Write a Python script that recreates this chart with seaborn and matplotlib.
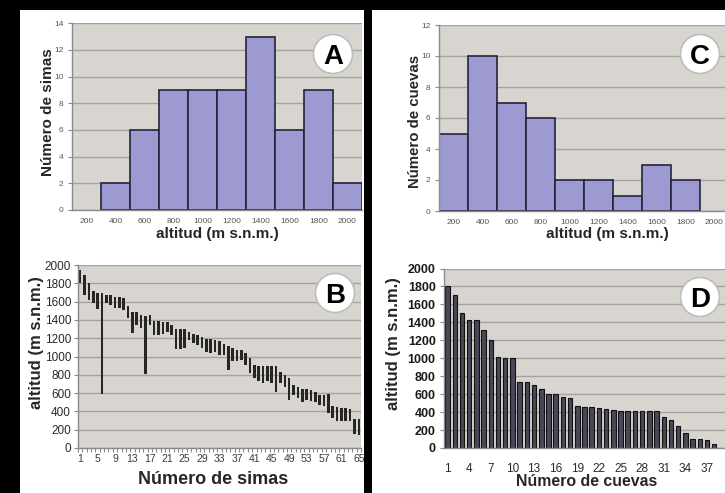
import numpy as np
import pandas as pd
import matplotlib
matplotlib.use('Agg')
import matplotlib.pyplot as plt
from matplotlib.patches import Rectangle, Circle
from matplotlib.ticker import FixedLocator
import seaborn as sns

# ---------------- data ----------------
alt_bins = ['200', '400', '600', '800', '1000', '1200', '1400', '1600', '1800', '2000']
simas_counts = [0, 2, 6, 9, 9, 9, 13, 6, 9, 2]
cuevas_counts = [5, 10, 7, 6, 2, 2, 1, 3, 2, 0]

simas_top = [1950, 1890, 1800, 1720, 1690, 1690, 1670, 1670, 1650, 1650,
             1640, 1550, 1490, 1490, 1450, 1445, 1450, 1385, 1385, 1380,
             1380, 1340, 1305, 1305, 1300, 1270, 1250, 1235, 1215, 1195,
             1195, 1180, 1170, 1140, 1110, 1090, 1075, 1070, 1035, 985,
             905, 900, 900, 900, 900, 900, 830, 795, 765, 685,
             670, 640, 640, 630, 615, 580, 580, 590, 460, 450,
             440, 440, 430, 320, 320]
simas_bottom = [1800, 1670, 1620, 1580, 1520, 590, 1580, 1560, 1525, 1530,
                1510, 1420, 1260, 1340, 1310, 810, 1340, 1235, 1235, 1250,
                1265, 1235, 1080, 1080, 1090, 1180, 1150, 1125, 1095, 1050,
                1035, 1045, 1020, 1015, 850, 950, 950, 960, 905, 815,
                760, 730, 715, 730, 715, 610, 705, 670, 520, 580,
                545, 505, 520, 510, 505, 470, 460, 385, 330, 300,
                295, 295, 290, 150, 140]
simas_ticklabels = [str(i) for i in range(1, 66, 4)]

cuevas_alt = [1800, 1700, 1500, 1430, 1430, 1310, 1200, 1010, 1000, 1000,
              740, 740, 700, 655, 605, 605, 570, 555, 465, 460,
              460, 445, 435, 420, 415, 415, 415, 415, 415, 415,
              350, 315, 250, 165, 95, 95, 85, 40]
cuevas_ticklabels = [str(i) for i in range(1, 39, 3)]

# ---------------- style ----------------
sns.set_style('white')
plt.rcParams['font.family'] = ['Liberation Sans', 'DejaVu Sans']

W, H = 725, 493
BG = '#d8d4d0'
GRID = '#a6a29e'
SP = '#8a8a8a'
LAV = '#9d9ad2'
EDGE = '#24243c'

fig = plt.figure(figsize=(W / 100, H / 100), dpi=100, facecolor='black')


def px_axes(l, t, r, b):
    return fig.add_axes([l / W, 1 - b / H, (r - l) / W, (b - t) / H])


for x0, x1 in [(20, 364), (372, 725)]:
    fig.add_artist(Rectangle((x0 / W, 0), (x1 - x0) / W, (H - 10) / H,
                             transform=fig.transFigure, facecolor='white',
                             edgecolor='none', zorder=-5))


def style(ax):
    ax.set_facecolor(BG)
    ax.grid(axis='y', color=GRID, lw=1)
    ax.grid(axis='x', visible=False)
    ax.set_axisbelow(True)
    for s in ['top', 'right']:
        ax.spines[s].set_visible(False)
    for s in ['left', 'bottom']:
        ax.spines[s].set_color(SP)
        ax.spines[s].set_linewidth(1)


# ---------------- A ----------------
axA = px_axes(72, 23.3, 362, 210)
style(axA)
dfA = pd.DataFrame({'alt': alt_bins, 'n': simas_counts})
sns.barplot(data=dfA[dfA.n > 0], x='alt', y='n', order=alt_bins, color=LAV,
            saturation=1, width=1, edgecolor=EDGE, linewidth=1.2, ax=axA)
axA.set_xlim(-0.5, 9.5)
axA.set_ylim(0, 14)
axA.set_yticks(range(0, 15, 2))
axA.tick_params(axis='y', left=True, length=3, color=SP, pad=3, labelsize=6, labelcolor='#555555')
axA.tick_params(axis='x', bottom=False, pad=2.5, labelsize=6, labelcolor='#555555')
axA.set_xlabel('altitud (m s.n.m.)', fontsize=11, fontweight='bold', va='center')
axA.set_ylabel('Número de simas', fontsize=11, fontweight='bold', va='center')
axA.xaxis.set_label_coords(0.5, -0.128)
axA.yaxis.set_label_coords(-0.083, 0.524)

# ---------------- C ----------------
axC = px_axes(439, 25, 729, 211)
style(axC)
dfC = pd.DataFrame({'alt': alt_bins, 'n': cuevas_counts})
sns.barplot(data=dfC[dfC.n > 0], x='alt', y='n', order=alt_bins, color=LAV,
            saturation=1, width=1, edgecolor=EDGE, linewidth=1.2, ax=axC)
axC.set_xlim(-0.5, 9.5)
axC.set_ylim(0, 12)
axC.set_yticks(range(0, 13, 2))
axC.tick_params(axis='y', left=True, length=3, color=SP, pad=3, labelsize=6, labelcolor='#555555')
axC.tick_params(axis='x', bottom=False, pad=2.5, labelsize=6, labelcolor='#555555')
axC.set_xlabel('altitud (m s.n.m.)', fontsize=11, fontweight='bold', va='center')
axC.set_ylabel('Número de cuevas', fontsize=10.8, fontweight='bold', va='center')
axC.xaxis.set_label_coords(0.58, -0.124)
axC.yaxis.set_label_coords(-0.082, 0.48)

# ---------------- B ----------------
axB = px_axes(78, 265, 361, 448)
style(axB)
xB = np.arange(len(simas_top))
axB.bar(xB, np.array(simas_top) - np.array(simas_bottom), bottom=simas_bottom,
        width=0.6, color='#262626', edgecolor='none')
axB.set_xlim(-0.5, len(simas_top) - 0.5)
axB.set_ylim(0, 2000)
axB.set_yticks(range(0, 2001, 200))
axB.set_xticks(np.arange(0, 65, 4))
axB.set_xticklabels(simas_ticklabels)
axB.xaxis.set_minor_locator(FixedLocator(np.arange(-0.5, 65, 1)))
axB.tick_params(axis='x', which='minor', bottom=True, length=3, color=SP, width=0.8)
axB.tick_params(axis='x', which='major', bottom=True, length=0, pad=4, labelsize=7.5, labelcolor='#3a3a3a')
axB.tick_params(axis='y', left=True, length=3, color=SP, pad=2, labelsize=8.5, labelcolor='#2a2a2a')
axB.set_xlabel('Número de simas', fontsize=13, fontweight='bold', va='center')
axB.set_ylabel('altitud (m s.n.m.)', fontsize=12, fontweight='bold', va='center')
axB.xaxis.set_label_coords(0.477, -0.172)
axB.yaxis.set_label_coords(-0.145, 0.576)

# ---------------- D ----------------
axD = px_axes(444, 268.5, 725, 448)
style(axD)
dfD = pd.DataFrame({'n': np.arange(1, len(cuevas_alt) + 1), 'alt': cuevas_alt})
sns.barplot(data=dfD, x='n', y='alt', color='#4a4858', saturation=1, width=0.62,
            edgecolor='#111111', linewidth=0.8, ax=axD)
axD.set_xlim(-0.5, len(cuevas_alt) + 0.5)
axD.set_ylim(0, 2000)
axD.set_yticks(range(0, 2001, 200))
axD.set_xticks(np.arange(0, 38, 3))
axD.set_xticklabels(cuevas_ticklabels)
axD.tick_params(axis='x', bottom=False, pad=7, labelsize=8.5, labelcolor='#2a2a2a')
axD.tick_params(axis='y', left=True, length=3, color=SP, pad=3, labelsize=9, labelcolor='#1a1a1a')
for t in axD.get_yticklabels():
    t.set_fontweight('bold')
axD.set_xlabel('Número de cuevas', fontsize=11.4, fontweight='bold', va='center')
axD.set_ylabel('altitud (m s.n.m.)', fontsize=12, fontweight='bold', va='center')
axD.xaxis.set_label_coords(0.509, -0.186)
axD.yaxis.set_label_coords(-0.178, 0.58)

# ---------------- panel letters ----------------
for lab, cx, cy in [('A', 333, 54), ('C', 700, 54), ('B', 335, 293), ('D', 700, 297)]:
    fig.add_artist(Circle((cx / 100, (H - cy) / 100), 0.195, transform=fig.dpi_scale_trans,
                          facecolor='white', edgecolor='#bdbdbd', lw=1.2, zorder=5))
    fig.text(cx / W, 1 - (cy + 10) / H, lab, ha='center', va='baseline',
             fontsize=20, fontweight='bold', color='black', zorder=6)

fig.savefig('out.png', dpi=100, facecolor=fig.get_facecolor())
